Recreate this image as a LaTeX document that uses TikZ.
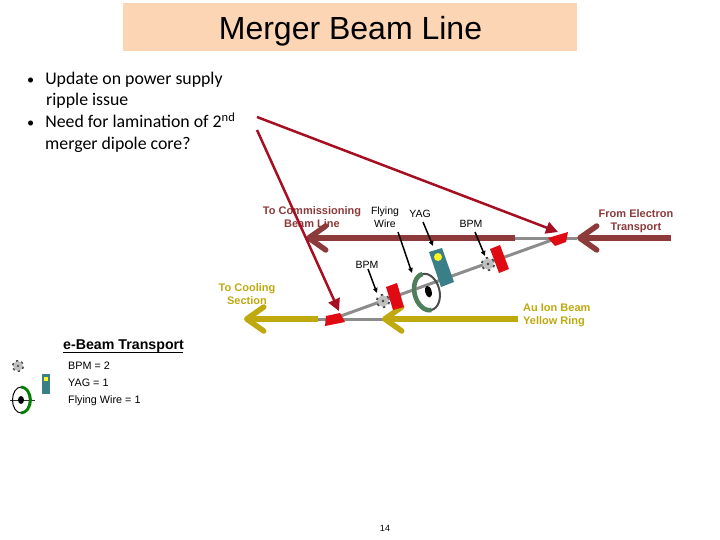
\documentclass[tikz,border=0pt]{standalone}
\usepackage{fontspec}
\setmainfont{Liberation Sans}
\newfontfamily\bodyfont{Carlito}
\usetikzlibrary{arrows.meta}
\definecolor{peach}{HTML}{FCD5B5}
\definecolor{beambrown}{HTML}{8C3A3A}
\definecolor{ionyellow}{HTML}{BFA90F}
\definecolor{leadred}{HTML}{A50F21}
\definecolor{magnetred}{HTML}{E00A12}
\definecolor{yagteal}{HTML}{3A7F88}
\definecolor{ringgreen}{HTML}{4F7F5A}
\tikzset{
    beamline/.style={line width=5.5pt},
    beamtip/.style={line width=5.5pt, -{Straight Barb[length=17pt,width=24pt,round]}},
    pipeline/.style={line width=3pt, color=gray!90},
    leadline/.style={line width=2.5pt, leadred, -{Triangle[length=12pt,width=12pt]}},
    pointer/.style={line width=1.5pt, black, -{Triangle[length=5pt,width=4.5pt]}},
    magnet/.style={fill=magnetred, draw=none},
    lbl/.style={font=\fontsize{10.5}{13}\selectfont, align=center, inner sep=0pt},
    brownlbl/.style={lbl, font=\fontsize{11}{13}\selectfont\bfseries, text=beambrown},
    yellowlbl/.style={lbl, font=\fontsize{11}{13}\selectfont\bfseries, text=ionyellow},
    pics/bpmgear/.style={code={
        \foreach \a in {0,60,...,300} {
            \draw[line width=2.4pt, gray!55!black] (0,0) -- (\a+20:7);
        }
        \fill[gray!50] (0,0) circle (5.6);
        \fill[black!75] (0,0) circle (1.4);
    }},
}
\begin{document}
\begin{tikzpicture}[x=1pt,y=-1pt]
    \useasboundingbox (0,0) rectangle (720,540);

    % Title
    \fill[peach] (123,3) rectangle (577,51);
    \node[font=\fontsize{32}{36}\selectfont, inner sep=0pt] (title) at (350.5,31) {Merger Beam Line};

    % Bullets
    \node[font=\fontsize{17.8}{21.8}\bodyfont, anchor=north west, align=left, inner sep=0pt] (bulleta) at (27,71.5)
        {\scalebox{0.8}{•}\hspace{11pt}Update on power supply\\\hspace{19pt}ripple issue};
    \node[font=\fontsize{17.8}{21.8}\bodyfont, anchor=north west, align=left, inner sep=0pt] (bulletb) at (27,112.5)
        {\scalebox{0.8}{•}\hspace{11pt}Need for lamination of 2\textsuperscript{nd}\\\hspace{18pt}merger dipole core?};

    % Labels
    \node[brownlbl] (commlbl) at (312,217.5) {To Commissioning\\Beam Line};
    \node[lbl] (wirelbl) at (385,217.5) {Flying\\Wire};
    \node[lbl] (yaglbl) at (420,214) {YAG};
    \node[lbl] (bpmlbla) at (471,224) {BPM};
    \node[lbl] (bpmlblb) at (367,265) {BPM};
    \node[brownlbl] (fromlbl) at (636,221.5) {From Electron\\Transport};
    \node[yellowlbl] (coollbl) at (247,294.5) {To Cooling\\Section};
    \node[yellowlbl, align=left, anchor=west] (ionlbl) at (523,315.5) {Au Ion Beam\\Yellow Ring};

    % Beam pipes
    \coordinate (pipea) at (515,238);
    \coordinate (pipeb) at (577,238);
    \coordinate (pipec) at (318,319);
    \coordinate (piped) at (385,319);
    \coordinate (pipee) at (338,317);
    \coordinate (pipef) at (552,240);
    \draw[pipeline] (pipea) -- (pipeb);
    \draw[pipeline] (pipec) -- (piped);
    \draw[pipeline] (pipee) -- (pipef);

    % Electron beam
    \coordinate (ebeama) at (671,238);
    \coordinate (ebeamb) at (577,238);
    \coordinate (ebeamc) at (515,238);
    \coordinate (ebeamd) at (306,238);
    \draw[beamtip, beambrown] (ebeama) -- (ebeamb);
    \draw[beamtip, beambrown] (ebeamc) -- (ebeamd);

    % Ion beam
    \coordinate (iona) at (518,319);
    \coordinate (ionb) at (382,319);
    \coordinate (ionc) at (318,319);
    \coordinate (iond) at (244,319);
    \draw[beamtip, ionyellow] (iona) -- (ionb);
    \draw[beamtip, ionyellow] (ionc) -- (iond);

    % Dipoles
    \fill[magnet] (548,238) -- (568,232) -- (566,242) -- (555,246) -- cycle;
    \fill[magnet] (326,316) -- (340,313) -- (345,322) -- (325,326) -- cycle;
    % Quads
    \fill[magnet] (386,287) -- (397,283) -- (404,307) -- (393,310) -- cycle;
    \fill[magnet] (490,249) -- (500,245) -- (509,269) -- (499,273) -- cycle;

    % Flying wire
    \begin{scope}[shift={(427,292)}, rotate=14]
        \draw[line width=2pt, gray!60!black] (0,0) ellipse (12.5 and 18.5);
        \draw[line width=4.6pt, ringgreen] (0,18.5) arc[start angle=90, end angle=270, x radius=12.5, y radius=18.5];
        \fill[black] (1.5,0) ellipse (3.2 and 6);
    \end{scope}

    % YAG
    \fill[yagteal] (429,252) -- (442,248) -- (454,282) -- (441,287) -- cycle;
    \fill[yellow!85!white] (438,257) circle (4);

    % BPMs
    \pic at (383,301) {bpmgear};
    \pic at (488,264) {bpmgear};

    % Pointers
    \coordinate (bpmheada) at (485,256);
    \coordinate (bpmheadb) at (377,293);
    \coordinate (wirehead) at (412,273);
    \coordinate (yaghead) at (433,246);
    \draw[pointer] (475,232) -- (bpmheada);
    \draw[pointer] (368,269) -- (bpmheadb);
    \draw[pointer] (398,232) -- (wirehead);
    \draw[pointer] (423,222) -- (yaghead);

    % Lead lines
    \coordinate (leadstart) at (257,117);
    \coordinate (leadmid) at (257,130);
    \coordinate (leadupper) at (558,232);
    \coordinate (leadlower) at (339,311);
    \draw[leadline] (leadstart) -- (leadupper);
    \draw[leadline] (leadmid) -- (leadlower);

    % Legend
    \node[font=\fontsize{14.2}{16}\selectfont\bfseries, anchor=west, inner sep=0pt] (legend) at (63,346) {e-Beam Transport};
    \draw[line width=1pt] (63,352) -- (183,352);
    \node[lbl, font=\fontsize{10.8}{13}\selectfont, anchor=west] (legbpm) at (68,365.5) {BPM = 2};
    \node[lbl, font=\fontsize{10.8}{13}\selectfont, anchor=west] (legyag) at (68,382.5) {YAG = 1};
    \node[lbl, font=\fontsize{10.8}{13}\selectfont, anchor=west] (legwire) at (68,400.5) {Flying Wire = 1};
    \pic[scale=0.85] at (18,366) {bpmgear};
    \fill[yagteal] (42,374) rectangle (50,394);
    \fill[yellow!85!white] (44,377) rectangle (48,381);
    \draw[line width=1pt, gray!40!black] (10,400.5) -- (35,400.5);
    \draw[line width=1pt, black] (21,400) ellipse (8.5 and 13);
    \draw[line width=2.8pt, green!50!black] (21,387) arc[start angle=-90, end angle=90, x radius=9.5, y radius=13];
    \fill[black] (21,400) ellipse (3 and 4);

    % Page number
    \node[font=\fontsize{9}{11}\selectfont, inner sep=0pt] (pagenum) at (385,528) {14};
\end{tikzpicture}
\end{document}
